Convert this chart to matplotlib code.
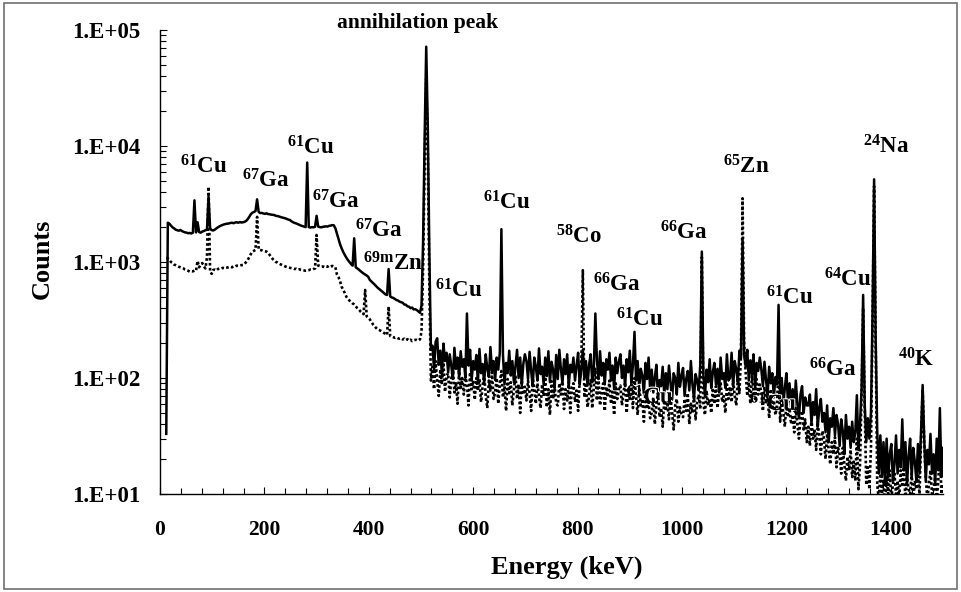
import numpy as np
import matplotlib
matplotlib.use("Agg")
import matplotlib.pyplot as plt
from matplotlib.ticker import MultipleLocator, LogLocator, NullFormatter, FuncFormatter
from matplotlib.patches import Rectangle
import matplotlib.patheffects as pe

# ---------------- data ----------------
energy_start, energy_stop, energy_step = 12, 1500, 3
energy_keV = np.arange(energy_start, energy_stop + 1, energy_step)

solid_counts = [
    33, 2180, 2140, 2060, 1990, 1950, 1900, 1880, 1860, 1890,
    1850, 1820, 1800, 1790, 1770, 1780, 1760, 1790, 3400, 1800,
    2200, 1810, 1790, 1830, 1850, 1880, 1900, 3660, 1950, 1880,
    1870, 1900, 1950, 1990, 2030, 2060, 2090, 2110, 2130, 2140,
    2150, 2170, 2180, 2160, 2190, 2200, 2180, 2210, 2190, 2200,
    2220, 2260, 2340, 2450, 2580, 2660, 2700, 2750, 3470, 2700,
    2640, 2650, 2620, 2600, 2630, 2590, 2580, 2560, 2550, 2540,
    2500, 2490, 2470, 2440, 2420, 2400, 2380, 2350, 2320, 2300,
    2240, 2200, 2170, 2150, 2120, 2090, 2060, 2040, 2020, 2000,
    7200, 2000, 1980, 2000, 1990, 2010, 2500, 2020, 2000, 1990,
    2010, 2020, 2030, 2020, 2050, 2060, 2080, 2070, 1950, 1750,
    1560, 1420, 1310, 1220, 1150, 1090, 1040, 1000, 960, 930,
    1600, 900, 880, 860, 835, 815, 795, 780, 765, 745,
    700, 680, 660, 640, 620, 600, 585, 570, 555, 540,
    525, 520, 870, 505, 495, 490, 480, 470, 465, 455,
    450, 445, 430, 428, 415, 412, 400, 405, 390, 392,
    385, 375, 365, 420, 1500, 12000, 71800, 15000, 1200, 175,
    190, 118, 205, 220, 130, 172, 108, 198, 140, 165,
    112, 160, 128, 98, 182, 120, 150, 102, 170, 125,
    145, 100, 360, 128, 175, 95, 140, 118, 158, 92,
    178, 110, 132, 90, 160, 120, 102, 185, 115, 140,
    96, 150, 118, 165, 1920, 160, 88, 135, 110, 172,
    105, 140, 92, 128, 175, 100, 150, 86, 132, 160,
    140, 98, 168, 115, 85, 150, 125, 95, 180, 108,
    125, 88, 150, 104, 170, 92, 138, 118, 82, 158,
    98, 175, 120, 90, 145, 108, 160, 84, 130, 112,
    150, 95, 128, 165, 88, 118, 175, 100, 140, 86,
    130, 160, 92, 120, 360, 142, 98, 170, 105, 135,
    88, 145, 118, 165, 95, 128, 80, 150, 110, 138,
    160, 100, 128, 85, 145, 112, 172, 90, 130, 250,
    95, 140, 82, 120, 105, 72, 135, 98, 150, 78,
    118, 75, 102, 130, 68, 96, 85, 125, 72, 110,
    80, 128, 92, 65, 110, 100, 72, 135, 84, 104,
    122, 70, 98, 115, 78, 140, 88, 66, 108, 95,
    78, 130, 1230, 105, 70, 118, 92, 145, 82, 112,
    135, 88, 120, 75, 150, 98, 110, 82, 160, 95,
    100, 165, 85, 140, 118, 92, 172, 150, 1550, 160,
    125, 175, 95, 142, 108, 160, 80, 135, 115, 150,
    118, 85, 138, 95, 72, 125, 90, 110, 68, 102,
    88, 427, 65, 100, 58, 82, 110, 62, 90, 55,
    80, 52, 95, 60, 45, 72, 85, 50, 68, 58,
    58, 72, 40, 62, 48, 80, 38, 55, 66, 42,
    50, 34, 58, 28, 45, 38, 55, 32, 48, 40,
    26, 44, 35, 22, 48, 30, 38, 25, 42, 28,
    34, 71, 24, 40, 80, 520, 60, 28, 45, 30,
    50, 350, 5160, 220, 35, 15, 32, 14, 28, 12,
    30, 14, 22, 27, 13, 18, 32, 15, 24, 17,
    44, 16, 28, 12, 21, 30, 14, 25, 19, 13,
    27, 15, 35, 87, 30, 13, 24, 18, 33, 15,
    22, 12, 30, 16, 55, 14, 25,
]

dotted_counts = [
    1080, 1077, 1040, 1000, 980, 950, 940, 925, 910, 900,
    890, 880, 860, 850, 840, 826, 835, 830, 845, 840,
    1020, 900, 950, 980, 920, 880, 1100, 4460, 820, 790,
    853, 860, 845, 870, 880, 875, 890, 885, 900, 895,
    905, 910, 900, 920, 915, 930, 925, 935, 940, 942,
    960, 1000, 1040, 1100, 1170, 1230, 1250, 1270, 2450, 1280,
    1270, 1260, 1240, 1235, 1230, 1200, 1150, 1100, 1060, 1030,
    1000, 990, 970, 955, 940, 930, 915, 905, 895, 890,
    885, 880, 870, 875, 860, 865, 855, 850, 845, 841,
    845, 850, 860, 855, 870, 880, 1710, 930, 925, 910,
    915, 905, 920, 910, 930, 915, 925, 912, 900, 780,
    740, 680, 612, 575, 540, 502, 480, 465, 454, 440,
    430, 415, 400, 390, 375, 365, 355, 574, 340, 330,
    320, 305, 290, 280, 270, 262, 259, 255, 250, 245,
    240, 235, 412, 230, 228, 225, 222, 224, 220, 218,
    220, 215, 218, 212, 216, 210, 214, 208, 212, 213,
    213, 210, 215, 250, 900, 7000, 38000, 9000, 600, 95,
    125, 80, 140, 95, 70, 118, 88, 135, 76, 105,
    110, 68, 98, 122, 75, 90, 60, 115, 82, 100,
    72, 105, 88, 58, 112, 80, 95, 65, 100, 78,
    98, 62, 85, 108, 70, 55, 95, 78, 112, 66,
    75, 100, 60, 90, 115, 68, 85, 52, 98, 74,
    92, 58, 80, 105, 66, 88, 50, 96, 72, 84,
    64, 95, 74, 52, 100, 82, 60, 90, 70, 55,
    88, 70, 102, 56, 80, 48, 94, 66, 85, 60,
    58, 90, 72, 98, 54, 80, 64, 92, 50, 84,
    90, 62, 78, 52, 95, 120, 850, 68, 86, 56,
    70, 96, 55, 82, 120, 64, 100, 58, 78, 90,
    52, 84, 68, 95, 60, 76, 48, 90, 66, 80,
    86, 58, 75, 92, 50, 80, 66, 88, 55, 100,
    70, 48, 82, 58, 66, 42, 76, 54, 62, 45,
    50, 68, 40, 60, 74, 46, 55, 38, 64, 52,
    62, 44, 70, 50, 36, 58, 66, 42, 56, 48,
    46, 66, 52, 74, 40, 60, 50, 70, 44, 62,
    72, 54, 1100, 60, 48, 78, 58, 66, 50, 82,
    60, 85, 55, 76, 92, 62, 70, 50, 88, 66,
    84, 62, 95, 70, 58, 100, 74, 160, 3540, 200,
    110, 70, 92, 60, 105, 78, 66, 98, 72, 88,
    75, 52, 84, 60, 70, 45, 80, 56, 64, 48,
    58, 130, 42, 64, 50, 38, 60, 46, 55, 40,
    48, 34, 55, 40, 30, 46, 52, 36, 44, 28,
    38, 26, 44, 30, 36, 24, 40, 32, 22, 35,
    30, 20, 33, 24, 18, 28, 22, 31, 17, 25,
    22, 15, 25, 18, 13, 21, 16, 24, 14, 19,
    13, 30, 11, 18, 70, 400, 55, 12, 17, 11,
    25, 300, 4500, 200, 12, 9, 15, 10, 13, 8,
    14, 10, 16, 9, 12, 15, 10, 13, 9, 16,
    12, 17, 9, 14, 11, 10, 15, 9, 13, 11,
    15, 10, 30, 80, 28, 14, 9, 12, 16, 10,
    11, 14, 9, 13, 25, 10, 12,
]

label_texts = [
    r"$^{61}$Cu", r"$^{67}$Ga", r"$^{61}$Cu", r"$^{67}$Ga", r"$^{67}$Ga",
    r"$^{69m}$Zn", r"$^{61}$Cu", r"$^{61}$Cu", r"$^{58}$Co", r"$^{66}$Ga",
    r"$^{61}$Cu", r"$^{66}$Ga", r"$^{65}$Zn", r"$^{61}$Cu", r"$^{64}$Cu",
    r"$^{66}$Ga", r"$^{24}$Na", r"$^{40}$K",
]
label_energy = [38, 158, 243, 292, 374, 388, 527, 619, 759, 830,
                874, 958, 1079, 1161, 1272, 1244, 1347, 1414]
label_counts = [5740, 4370, 8530, 2900, 1630, 840, 496, 2850, 1440, 560,
                277, 1550, 5820, 434, 621, 103, 8650, 125]

hidden_texts = [r"$^{61}$Cu", r"$^{61}$Cu"]
hidden_energy = [894, 1130]
hidden_counts = [61, 53]

title_text = "annihilation peak"
title_energy, title_counts = 339, 103500

x_label = "Energy (keV)"
y_label = "Counts"

# ---------------- style ----------------
plt.rcParams["font.family"] = ["Liberation Serif", "DejaVu Serif"]
plt.rcParams["font.weight"] = "bold"
plt.rcParams["mathtext.fontset"] = "custom"
plt.rcParams["mathtext.rm"] = "Liberation Serif:bold"
plt.rcParams["mathtext.it"] = "Liberation Serif:bold"
plt.rcParams["mathtext.bf"] = "Liberation Serif:bold"
plt.rcParams["mathtext.default"] = "rm"

W, H = 961, 592
fig = plt.figure(figsize=(W / 100, H / 100), dpi=100)
left_px, right_px, top_px, bottom_px = 160, 943, 30, 494
ax = fig.add_axes([left_px / W, 1 - bottom_px / H,
                   (right_px - left_px) / W, (bottom_px - top_px) / H])

ax.plot(energy_keV, solid_counts, color="black", lw=1.8, zorder=2)
ax.plot(energy_keV, dotted_counts, color="black", lw=1.9,
        linestyle=(0, (1, 0.9)), zorder=3)

ax.set_yscale("log")
ax.set_xlim(0, 1500)
ax.set_ylim(10, 1e5)

for s in ("top", "right"):
    ax.spines[s].set_visible(False)
for s in ("left", "bottom"):
    ax.spines[s].set_linewidth(1.0)

ax.xaxis.set_major_locator(MultipleLocator(200))
ax.xaxis.set_minor_locator(MultipleLocator(40))
ax.yaxis.set_major_locator(LogLocator(base=10, numticks=10))
ax.yaxis.set_minor_locator(LogLocator(base=10, subs=np.arange(2, 10), numticks=20))
ax.yaxis.set_minor_formatter(NullFormatter())
ax.yaxis.set_major_formatter(FuncFormatter(lambda v, p: "1.E+%02d" % int(round(np.log10(v)))))

ax.tick_params(axis="both", which="both", direction="in", width=0.8)
ax.tick_params(axis="both", which="major", length=5)
ax.tick_params(axis="both", which="minor", length=4)
ax.tick_params(axis="y", which="major", pad=14, labelsize=16.5)
ax.tick_params(axis="x", which="major", pad=19, labelsize=15.5)

ax.set_xlabel(x_label, fontsize=19, fontweight="bold")
ax.xaxis.label.set_va("center")
ax.xaxis.set_label_coords(0.52, -0.159)
ax.set_ylabel(y_label, fontsize=19, fontweight="bold")
ax.yaxis.label.set_va("center")
ax.yaxis.set_label_coords(-0.151, 0.506)

for t, e, c in zip(label_texts, label_energy, label_counts):
    ax.text(e, c, t, fontsize=16.5, fontweight="bold", ha="left", va="baseline",
            zorder=4)
for t, e, c in zip(hidden_texts, hidden_energy, hidden_counts):
    ax.text(e, c, t, fontsize=16.5, fontweight="bold", ha="left", va="baseline",
            zorder=2.5, path_effects=[pe.withStroke(linewidth=1.5, foreground="white")])
ax.text(title_energy, title_counts, title_text, fontsize=15.5, fontweight="bold",
        ha="left", va="baseline", zorder=4, clip_on=False)

fig.patches.append(Rectangle((4 / W, 3 / H), 953 / W, 586 / H, transform=fig.transFigure,
                             fill=False, edgecolor="#707070", lw=1.2))

fig.savefig("out.png", dpi=100)
